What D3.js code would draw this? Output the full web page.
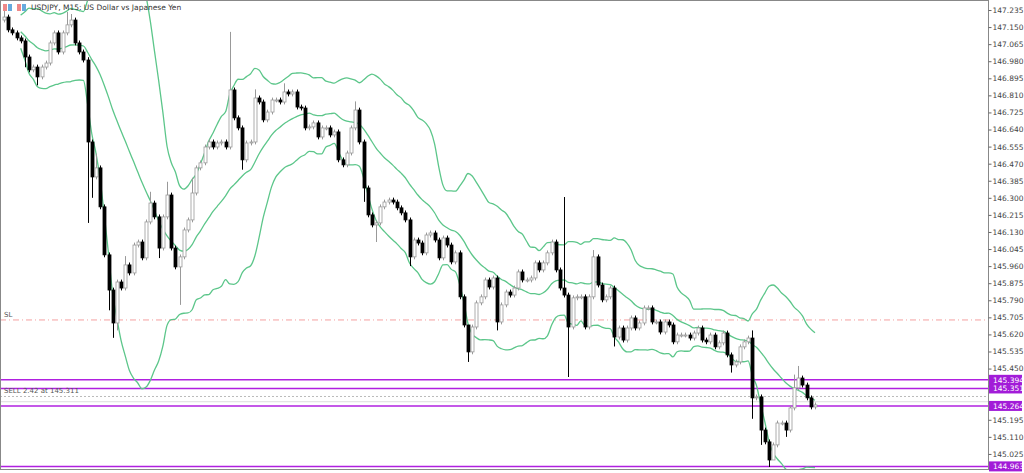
<!DOCTYPE html>
<html><head><meta charset="utf-8">
<script src="https://cdn.jsdelivr.net/npm/d3@7"></script>
<style>body{margin:0;background:#fff}svg{display:block}</style>
</head><body><svg id="c" width="1024" height="473"></svg>
<script>
const closes=[147.200,147.136,147.121,147.096,147.081,147.001,146.937,146.951,146.902,146.951,
146.971,147.071,147.121,147.026,147.121,147.161,147.185,147.071,147.026,146.986,
146.578,146.404,146.449,146.255,146.016,145.841,145.677,145.881,145.851,145.966,
145.926,146.065,146.080,146.001,146.180,146.274,146.205,146.050,146.205,146.314,
146.050,145.956,146.006,146.140,146.190,146.324,146.449,146.474,146.553,146.578,
146.553,146.573,146.578,146.553,146.837,146.698,146.648,146.489,146.573,146.578,
146.797,146.777,146.688,146.727,146.787,146.787,146.777,146.827,146.817,146.827,
146.752,146.747,146.648,146.653,146.673,146.603,146.648,146.648,146.613,146.628,
146.489,146.464,146.523,146.648,146.737,146.578,146.349,146.215,146.165,146.175,
146.255,146.279,146.289,146.279,146.250,146.225,146.190,146.006,146.090,146.075,
146.026,146.115,146.125,146.090,146.001,146.100,146.065,145.981,146.026,145.807,
145.667,145.533,145.657,145.777,145.807,145.891,145.856,145.901,145.682,145.767,
145.831,145.816,145.851,145.931,145.891,145.891,145.901,145.976,145.941,145.976,
146.026,146.080,145.941,145.851,145.816,145.657,145.802,145.807,145.807,145.657,
145.807,146.006,145.866,145.792,145.807,145.851,145.607,145.652,145.592,145.652,
145.702,145.652,145.677,145.752,145.752,145.682,145.682,145.632,145.682,145.667,
145.583,145.617,145.617,145.617,145.602,145.627,145.652,145.592,145.583,145.617,
145.558,145.578,145.627,145.518,145.468,145.483,145.558,145.583,145.602,145.304,
145.309,145.144,145.085,144.995,145.070,145.179,145.179,145.144,145.254,145.354,
145.403,145.368,145.304,145.259,145.269];
const firstOpen=147.185;
const highSpikes={0:147.235,15:147.225,16:147.215,20:147.000,22:146.520,29:146.010,35:146.330,39:146.380,45:146.400,54:147.126,60:146.840,67:146.870,84:146.780,111:145.650,134:146.304,141:146.040,179:145.640,189:145.420,190:145.463};
const lowSpikes={5:146.950,8:146.860,20:146.175,21:146.300,25:145.740,26:145.603,27:145.640,37:146.000,42:145.767,57:146.440,86:146.280,89:146.080,97:145.960,111:145.483,118:145.640,135:145.408,146:145.560,174:145.430,179:145.200,181:145.070,183:144.960,184:145.010,187:145.110};
const yTicks=[147.235,147.150,147.065,146.980,146.895,146.810,146.725,146.640,146.555,146.470,146.385,146.300,146.215,146.130,146.045,145.960,145.875,145.790,145.705,145.620,145.535,145.450,145.365,145.280,145.195,145.110,145.025];
const levelLines=[145.394,145.351,145.264,144.963];
const slLevel=145.692, sellLevel=145.311, askLevel=145.285;
const title="USDJPY, M15:  US Dollar vs Japanese Yen";
const sellText="SELL 2.42 at 145.311";

const svg=d3.select("#c");
const y=d3.scaleLinear().domain([144.963,147.235]).range([466.4,10]);
const x=d3.scaleLinear().domain([0,closes.length-1]).range([4,815]);
const W=988;
const candles=closes.map((c,i)=>{const o=i?closes[i-1]:firstOpen;
 const h=highSpikes[i]!==undefined?highSpikes[i]:Math.max(o,c)+0.012;
 const l=lowSpikes[i]!==undefined?lowSpikes[i]:Math.min(o,c)-0.012;
 return {i,o,c,h,l};});
const P=20,D=2;
const bb=closes.map((c,i)=>{if(i<4)return null;const s=closes.slice(Math.max(0,i-P+1),i+1);
 const m=d3.mean(s),sd=Math.sqrt(d3.mean(s.map(v=>(v-m)*(v-m))));return {i,m,u:m+D*sd,l:m-D*sd};}).filter(d=>d);
const g=svg.append("g");
svg.append("defs").append("clipPath").attr("id","cp").append("rect").attr("x",1).attr("y",1).attr("width",W-1).attr("height",468);
const pg=g.append("g").attr("clip-path","url(#cp)");
pg.append("line").attr("x1",0).attr("x2",W).attr("y1",y(slLevel)).attr("y2",y(slLevel)).attr("stroke","#f4a0a0").attr("stroke-dasharray","6,3,1,3");
pg.append("line").attr("x1",0).attr("x2",W).attr("y1",y(sellLevel)).attr("y2",y(sellLevel)).attr("stroke","#bbb").attr("stroke-dasharray","2,2");
pg.append("line").attr("x1",0).attr("x2",W).attr("y1",y(askLevel)).attr("y2",y(askLevel)).attr("stroke","#ddd");
levelLines.forEach(v=>pg.append("line").attr("x1",0).attr("x2",W).attr("y1",y(v)).attr("y2",y(v)).attr("stroke","#b020e0").attr("stroke-width",1.5));
["u","m","l"].forEach(k=>pg.append("path").datum(bb).attr("fill","none").attr("stroke","#5cc68a").attr("stroke-width",1.3)
 .attr("d",d3.line().x(d=>x(d.i)).y(d=>y(d[k])).curve(d3.curveMonotoneX)));
const cg=pg.selectAll(".cd").data(candles).join("g");
cg.append("line").attr("x1",d=>Math.round(x(d.i))+0.5).attr("x2",d=>Math.round(x(d.i))+0.5).attr("y1",d=>y(d.h)).attr("y2",d=>y(d.l))
 .attr("stroke",d=>d.c<d.o?"#000":"#999");
cg.append("rect").attr("x",d=>Math.round(x(d.i))-1).attr("width",3)
 .attr("y",d=>y(Math.max(d.o,d.c))).attr("height",d=>Math.max(1,Math.abs(y(d.o)-y(d.c))))
 .attr("fill",d=>d.c<d.o?"#000":"#fff").attr("stroke",d=>d.c<d.o?"#000":"#999").attr("stroke-width",0.8);
g.append("rect").attr("x",0.5).attr("y",0.5).attr("width",W).attr("height",469).attr("fill","none").attr("stroke","#888");
const ax=g.append("g").attr("transform",`translate(${W+0.5},0)`).call(d3.axisRight(y).tickValues(yTicks).tickSize(3).tickFormat(d3.format(".3f")));
ax.select(".domain").remove();
ax.selectAll("text").attr("font-family","DejaVu Sans, sans-serif").attr("font-size",7.5).attr("fill","#444").attr("x",4)
 .style("display",d=>levelLines.some(v=>Math.abs(y(v)-y(d))<9)?"none":null);
ax.selectAll("line").attr("stroke","#666");
levelLines.forEach(v=>{const lg=g.append("g").attr("transform",`translate(${W+1},${y(v)})`);
 lg.append("rect").attr("x",0).attr("y",-5).attr("width",33).attr("height",10).attr("fill","#a21cd8");
 lg.append("text").attr("x",4).attr("y",3).attr("font-family","DejaVu Sans, sans-serif").attr("font-size",7.5).attr("fill","#fff").text(d3.format(".3f")(v));});
g.append("text").attr("x",4).attr("y",y(slLevel)-3).attr("font-family","DejaVu Sans, sans-serif").attr("font-size",7).attr("fill","#555").text("SL");
g.append("text").attr("x",4).attr("y",y(sellLevel)-3).attr("font-family","DejaVu Sans, sans-serif").attr("font-size",7).attr("fill","#555").text(sellText);
g.append("rect").attr("x",3).attr("y",4).attr("width",4).attr("height",7).attr("fill","#e88");
g.append("rect").attr("x",8).attr("y",4).attr("width",4).attr("height",7).attr("fill","#6ad");
g.append("rect").attr("x",17).attr("y",4).attr("width",4).attr("height",7).attr("fill","#e88");
g.append("rect").attr("x",22).attr("y",4).attr("width",4).attr("height",7).attr("fill","#6ad");
g.append("text").attr("x",31).attr("y",10).attr("font-family","DejaVu Sans, sans-serif").attr("font-size",7.5).attr("fill","#333").text(title);
</script></body></html>
